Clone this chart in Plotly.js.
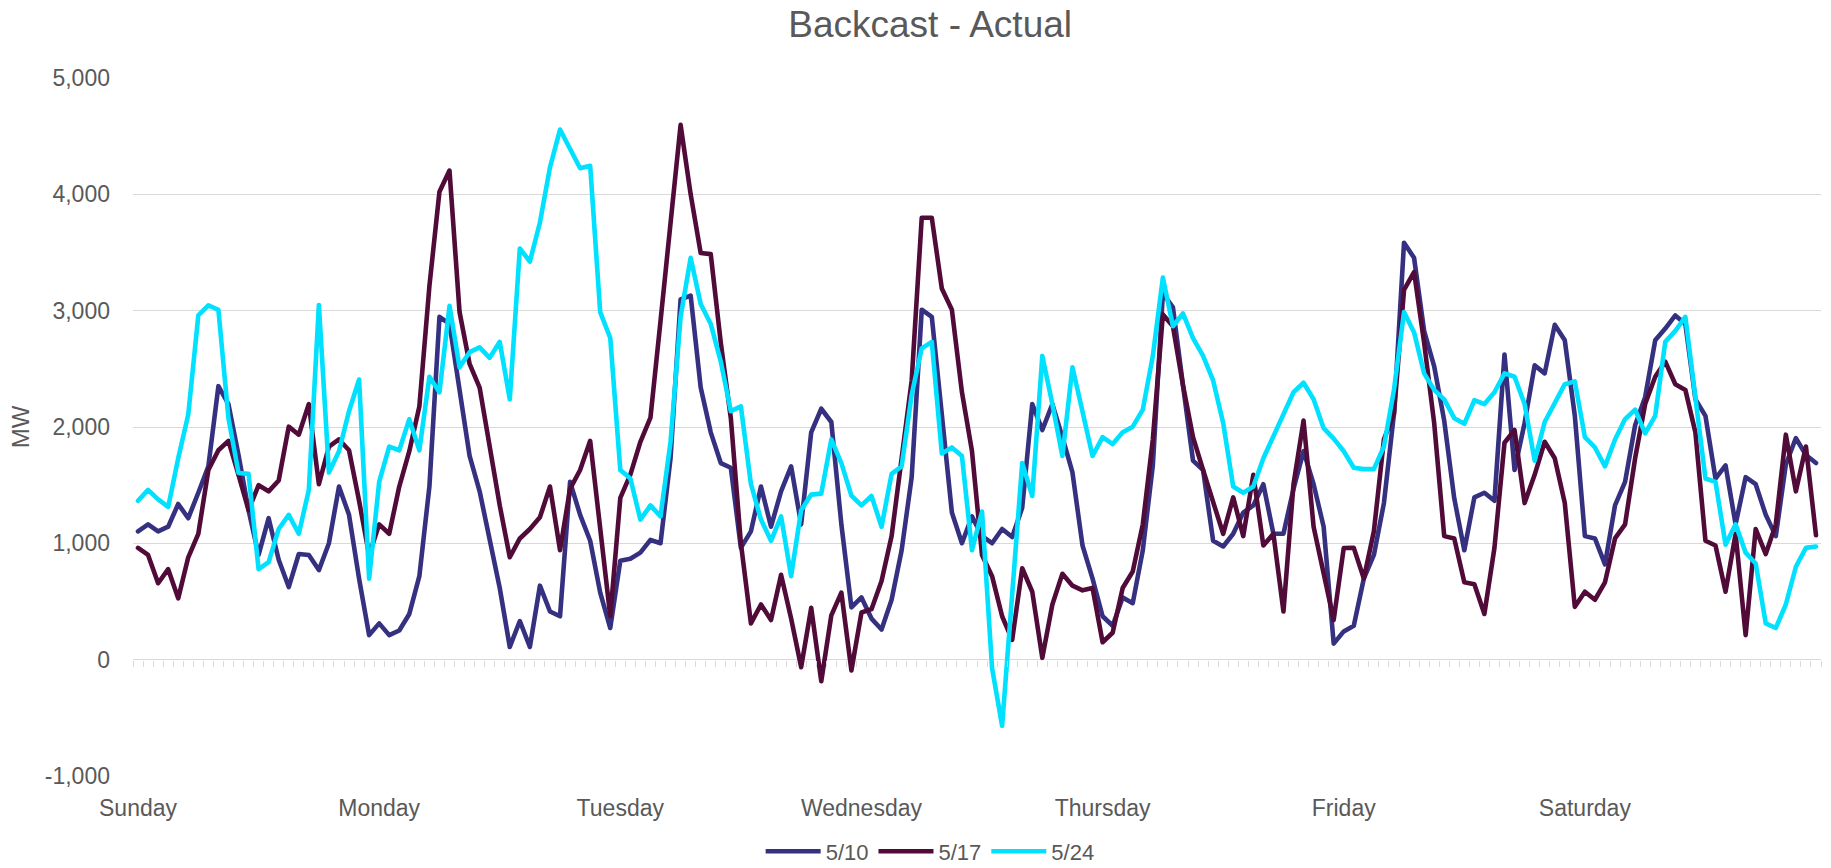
<!DOCTYPE html>
<html>
<head>
<meta charset="utf-8">
<script src="https://cdn.plot.ly/plotly-3.0.1.min.js"></script>
<style>
html,body{margin:0;padding:0;background:#fff;}
#chart{width:1831px;height:868px;}
.scatterlayer path.js-line{stroke-linejoin:round;stroke-linecap:round;}
</style>
</head>
<body>
<div id="chart"></div>
<script>
// ---- data ----
const dayLabels = ['Sunday','Monday','Tuesday','Wednesday','Thursday','Friday','Saturday'];
const hoursPerDay = 24;
const seriesNames = ['5/10','5/17','5/24'];
const yTickValues = [-1000, 0, 1000, 2000, 3000, 4000, 5000];
const yTickLabels = ['-1,000','0','1,000','2,000','3,000','4,000','5,000'];

const mw510 = [
 1103,1163,1103,1143,1338,1216,1435,1662,2351,2197,1759,1285,900,1216,859,624,908,900,770,1001,1488,1245,697,211,
 312,211,251,393,718,1488,2947,2886,2319,1751,1447,1022,616,109,332,109,636,414,373,1528,1245,1022,576,272,
 851,868,920,1030,1001,1731,3097,3130,2339,1954,1690,1650,961,1103,1488,1143,1447,1662,1163,1954,2157,2043,1163,450,
 535,353,259,515,941,1569,3008,2947,2100,1265,1001,1232,1062,1001,1123,1054,1305,2197,1974,2197,1913,1609,981,697,
 373,292,535,486,941,1670,3150,3028,2359,1711,1630,1022,973,1082,1265,1326,1508,1082,1082,1468,1792,1508,1143,138,
 243,292,697,900,1346,2116,3584,3454,2826,2522,2055,1386,941,1395,1435,1366,2623,1630,2035,2530,2461,2878,2745,2096,
 1062,1042,819,1326,1528,2015,2258,2745,2846,2959,2886,2238,2096,1557,1670,1163,1569,1508,1245,1062,1678,1905,1759,1690
];
const mw517 = [
 961,900,657,778,527,880,1082,1630,1800,1881,1589,1285,1500,1447,1540,2003,1934,2197,1508,1832,1893,1800,1366,900,
 1163,1082,1488,1792,2177,3211,4022,4204,2988,2542,2339,1832,1326,880,1042,1123,1224,1488,941,1468,1630,1881,1150,373,
 1390,1590,1873,2080,2910,3740,4597,4001,3495,3486,2724,2076,1001,312,474,341,730,353,-65,446,-186,381,576,-93,
 405,434,677,1062,1711,2400,3799,3799,3190,3008,2299,1792,900,718,373,170,786,584,16,474,738,636,596,616,
 150,231,616,758,1163,1893,2968,2866,2359,1913,1630,1366,1082,1395,1062,1589,981,1082,414,1508,2055,1143,760,341,
 960,961,697,1103,1893,2116,3178,3332,2724,2035,1062,1042,665,649,393,961,1865,1974,1346,1589,1873,1731,1346,454,
 584,515,665,1042,1163,1731,2197,2432,2562,2368,2319,1954,1022,981,584,1082,211,1123,908,1163,1934,1447,1832,1070
];
const mw524 = [
 1366,1459,1378,1313,1731,2108,2959,3045,3008,2076,1605,1597,778,839,1123,1245,1082,1459,3049,1609,1792,2136,2408,697,
 1528,1832,1800,2068,1800,2432,2299,3041,2513,2643,2684,2595,2732,2238,3535,3422,3758,4232,4557,4394,4224,4245,2988,2765,
 1630,1557,1204,1326,1232,1873,2947,3454,3057,2886,2562,2136,2177,1508,1204,1022,1232,718,1285,1419,1427,1893,1690,1410,
 1326,1407,1143,1597,1662,2278,2676,2732,1772,1824,1751,941,1273,-73,-568,560,1690,1407,2611,2197,1751,2513,2116,1751,
 1913,1853,1954,2003,2149,2611,3284,2866,2976,2765,2611,2400,2035,1488,1435,1488,1731,1913,2116,2299,2380,2238,1990,1900,
 1792,1650,1638,1638,1832,2319,2988,2813,2461,2319,2238,2076,2027,2230,2197,2299,2461,2432,2197,1711,2043,2197,2368,2392,
 1913,1824,1662,1893,2068,2149,1946,2096,2732,2826,2947,2254,1557,1528,989,1163,920,827,312,272,474,799,961,973
];

// ---- chart ----
const colors = ['#35307f', '#510b38', '#00e0ff'];
const hourIndex = mw510.map((_, i) => i);
const dayTickVals = dayLabels.map((_, d) => d * hoursPerDay);
const boundaryTicks = hourIndex.concat([hourIndex.length]).map(i => i - 0.5);
const xRange = [-0.5, hourIndex.length - 0.5];
const font = '"Liberation Sans", Arial, Helvetica, sans-serif';

const traces = [mw510, mw517, mw524].map((vals, k) => ({
  type: 'scatter', mode: 'lines', name: seriesNames[k],
  x: hourIndex, y: vals, xaxis: 'x', yaxis: 'y',
  line: {color: colors[k], width: 4.6}, hoverinfo: 'x+y+name'
}));
// carrier for the category tick marks on the zero line
traces.push({type: 'scatter', mode: 'lines', x: hourIndex, y: hourIndex.map(() => null),
  xaxis: 'x2', yaxis: 'y', showlegend: false, hoverinfo: 'skip'});

const layout = {
  width: 1831, height: 868,
  margin: {l: 133, r: 10, t: 78, b: 92, pad: 0},
  paper_bgcolor: '#ffffff', plot_bgcolor: '#ffffff',
  font: {family: font, color: '#595959', size: 23},
  title: {text: 'Backcast - Actual', font: {family: font, size: 37, color: '#595959'},
    xref: 'container', x: 0.508, xanchor: 'center', yref: 'container', y: 0.972, yanchor: 'middle',
    automargin: false},
  xaxis: {range: xRange, tickmode: 'array', tickvals: dayTickVals, ticktext: dayLabels,
    ticks: '', showgrid: false, zeroline: false, showline: false, ticklabelstandoff: 16, automargin: false,
    tickfont: {family: font, size: 23, color: '#595959'}},
  xaxis2: {overlaying: 'x', range: xRange, anchor: 'free', position: 1/6, side: 'bottom',
    showgrid: false, zeroline: false, showline: false, showticklabels: false, automargin: false,
    ticks: 'outside', tickmode: 'array', tickvals: boundaryTicks, ticklen: 6, tickwidth: 1.3, tickcolor: '#d9d9d9'},
  yaxis: {range: [yTickValues[0], yTickValues[yTickValues.length - 1]], tickmode: 'array',
    tickvals: yTickValues, ticktext: yTickLabels, ticks: '', showline: false, automargin: false,
    gridcolor: '#d9d9d9', gridwidth: 1.3, zeroline: true, zerolinecolor: '#d9d9d9', zerolinewidth: 1.3,
    ticklabelstandoff: 22, tickfont: {family: font, size: 23, color: '#595959'},
    title: {text: 'MW', standoff: 8, font: {family: font, size: 24, color: '#595959'}}},
  showlegend: true,
  legend: {orientation: 'h', xref: 'container', x: 0.508, xanchor: 'center',
    yref: 'container', y: 0.019, yanchor: 'middle', itemwidth: 55, borderwidth: 0,
    font: {family: font, size: 22, color: '#595959'}, bgcolor: 'rgba(0,0,0,0)'}
};

Plotly.newPlot('chart', traces, layout, {displayModeBar: false, responsive: false});
</script>
</body>
</html>
